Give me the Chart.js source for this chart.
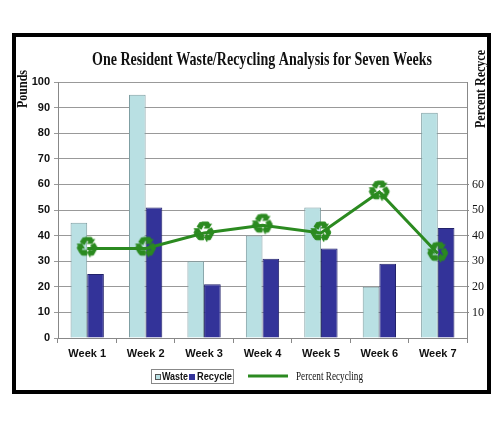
<!DOCTYPE html>
<html>
<head>
<meta charset="utf-8">
<script src="https://cdn.jsdelivr.net/npm/chart.js@4"></script>
<style>
  html, body { margin: 0; padding: 0; background: #fff; }
  #wrap { position: relative; width: 500px; height: 425px; }
</style>
</head>
<body>
<div id="wrap"><canvas id="chart-waste" width="500" height="425"></canvas></div>
<script>
// Dati
const weeks = ['Week 1', 'Week 2', 'Week 3', 'Week 4', 'Week 5', 'Week 6', 'Week 7'];
const wasteLbs = [45, 95, 30, 40, 51, 20, 88];
const recycleLbs = [25, 51, 21, 31, 35, 29, 43];
const percentRecycling = [35, 35, 41, 44, 41, 57, 33];
const rightTickLabels = [10, 20, 30, 40, 50, 60];

const titleText = 'One Resident Waste/Recycling Analysis for Seven Weeks';
const greenLine = '#2b8a20';

// Simbolo del riciclo usato come marker della linea
function creaMarker() {
    const c = document.createElement('canvas');
    c.width = 30; c.height = 30;
    const g = c.getContext('2d');
    g.fillStyle = greenLine;
    g.strokeStyle = greenLine;
    g.lineWidth = 1;
    g.font = 'bold 27px "DejaVu Sans"';
    g.textAlign = 'center';
    g.textBaseline = 'middle';
    g.fillText('\u267B', 15, 16);
    g.strokeText('\u267B', 15, 16);
    return c;
}

// Cornice, titoli e legenda disegnati a mano
const decorPlugin = {
    id: 'decor',
    beforeDraw(chart) {
        const ctx = chart.ctx;
        ctx.save();
        ctx.fillStyle = '#fff';
        ctx.fillRect(0, 0, chart.width, chart.height);
        ctx.restore();
    },
    afterDraw(chart) {
        const ctx = chart.ctx;
        ctx.save();
        // cornice nera
        ctx.strokeStyle = '#000';
        ctx.lineWidth = 4;
        ctx.strokeRect(14, 35, 475, 357);

        // titolo
        ctx.fillStyle = '#111';
        ctx.font = 'bold 19px "Liberation Serif"';
        ctx.textAlign = 'center';
        ctx.textBaseline = 'middle';
        ctx.fillText(titleText, 262, 60, 340);

        // titoli assi
        ctx.font = 'bold 14px "Liberation Serif"';
        ctx.save();
        ctx.translate(23, 89);
        ctx.rotate(-Math.PI / 2);
        ctx.fillText('Pounds', 0, 0, 38);
        ctx.restore();
        ctx.save();
        ctx.translate(481, 89);
        ctx.rotate(-Math.PI / 2);
        ctx.fillText('Percent Recyce', 0, 0, 78);
        ctx.restore();

        // legenda
        ctx.strokeStyle = '#888';
        ctx.lineWidth = 1;
        ctx.strokeRect(151.5, 369.5, 82, 14);
        ctx.fillStyle = '#b9e0e3';
        ctx.fillRect(155, 374, 5, 5);
        ctx.strokeStyle = '#555';
        ctx.strokeRect(155.5, 374.5, 5, 5);
        ctx.fillStyle = '#333399';
        ctx.fillRect(189, 374, 6, 6);
        ctx.fillStyle = '#111';
        ctx.textAlign = 'left';
        ctx.font = 'bold 10px "Liberation Sans"';
        ctx.fillText('Waste', 162, 377, 26);
        ctx.fillText('Recycle', 197, 377, 35);
        ctx.strokeStyle = greenLine;
        ctx.lineWidth = 3;
        ctx.beginPath();
        ctx.moveTo(248, 376);
        ctx.lineTo(288, 376);
        ctx.stroke();
        ctx.font = '12px "Liberation Serif"';
        ctx.fillText('Percent Recycling', 296, 377, 67);
        ctx.restore();
    }
};

const ctx = document.getElementById('chart-waste').getContext('2d');
new Chart(ctx, {
    type: 'bar',
    data: {
        labels: weeks,
        datasets: [
            {
                type: 'line',
                label: 'Percent Recycling',
                data: percentRecycling,
                yAxisID: 'y1',
                borderColor: greenLine,
                borderWidth: 3,
                pointStyle: creaMarker(),
                pointRadius: 15,
                tension: 0,
                order: 0
            },
            {
                label: 'Waste',
                data: wasteLbs,
                backgroundColor: '#b9e0e3',
                borderColor: '#7f9ea2',
                borderWidth: 1,
                barPercentage: 1,
                categoryPercentage: 0.57,
                order: 1
            },
            {
                label: 'Recycle',
                data: recycleLbs,
                backgroundColor: '#333399',
                borderColor: '#22226a',
                borderWidth: 1,
                barPercentage: 1,
                categoryPercentage: 0.57,
                order: 1
            }
        ]
    },
    options: {
        responsive: false,
        animation: false,
        layout: { padding: { top: 82, left: 0, right: 0, bottom: 0 } },
        plugins: {
            legend: { display: false },
            title: { display: false },
            tooltip: { enabled: false }
        },
        scales: {
            x: {
                grid: { drawOnChartArea: false, tickLength: 5, color: '#888', offset: true },
                border: { color: '#888' },
                ticks: {
                    color: '#111',
                    padding: 4,
                    font: { family: 'Liberation Sans', weight: 'bold', size: 11 }
                },
                afterFit(scale) { scale.height = 87; }
            },
            y: {
                position: 'left',
                min: 0,
                max: 100,
                ticks: {
                    stepSize: 10,
                    color: '#111',
                    padding: 4,
                    font: { family: 'Liberation Sans', weight: 'bold', size: 11 }
                },
                grid: { color: '#999', tickLength: 4 },
                border: { color: '#888' },
                afterFit(scale) { scale.width = 58; }
            },
            y1: {
                position: 'right',
                min: 0,
                max: 100,
                afterBuildTicks(scale) {
                    scale.ticks = rightTickLabels.map(v => ({ value: v }));
                },
                ticks: {
                    color: '#111',
                    padding: 3,
                    font: { family: 'Liberation Serif', size: 12 }
                },
                grid: { drawOnChartArea: false, tickLength: 2, color: '#888' },
                border: { color: '#888' },
                afterFit(scale) { scale.width = 33; }
            }
        }
    },
    plugins: [decorPlugin]
});
</script>
</body>
</html>
